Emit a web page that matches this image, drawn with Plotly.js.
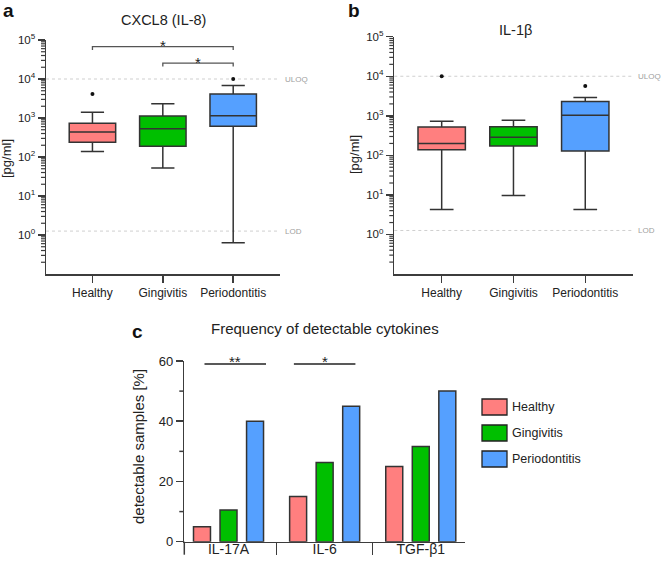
<!DOCTYPE html>
<html>
<head>
<meta charset="utf-8">
<script src="https://cdn.plot.ly/plotly-3.0.1.min.js"></script>
<style>
  html, body { margin: 0; padding: 0; background: #fff; }
  #chart { width: 661px; height: 562px; }
</style>
</head>
<body>
<div id="chart"></div>
<script>
// ---- groups -------------------------------------------------------------
const groups = ['Healthy', 'Gingivitis', 'Periodontitis'];
const groupColors = ['#FF7F7F', '#00BF00', '#55A0FF'];

// ---- CXCL8 (IL-8) concentrations, pg/ml (box statistics) ----------------
const il8Low    = [138, 52, 0.63];
const il8Q1     = [240, 190, 610];
const il8Median = [440, 530, 1150];
const il8Q3     = [730, 1130, 4100];
const il8High   = [1400, 2330, 6800];
const il8OutlierGroups = ['Healthy', 'Periodontitis'];
const il8Outliers      = [4100, 10000];

// ---- IL-1β concentrations, pg/ml ---------------------------------------
const il1bLow    = [4.3, 9.7, 4.3];
const il1bQ1     = [138, 172, 128];
const il1bMedian = [200, 285, 1030];
const il1bQ3     = [520, 530, 2300];
const il1bHigh   = [725, 770, 2900];
const il1bOutlierGroups = ['Healthy', 'Periodontitis'];
const il1bOutliers      = [10000, 5700];

// assay limits
const ULOQ = 10000;
const LOD = 1.26;

// significance brackets for CXCL8
const il8SigFrom  = ['Healthy', 'Gingivitis'];
const il8SigTo    = ['Periodontitis', 'Periodontitis'];
const il8SigLevel = [67600, 25400];
const il8SigText  = ['*', '*'];

// log axis labels
const decadeVals = [1, 10, 100, 1000, 10000, 100000];
const decadeText = ['10<sup>0</sup>', '10<sup>1</sup>', '10<sup>2</sup>',
                    '10<sup>3</sup>', '10<sup>4</sup>', '10<sup>5</sup>'];

// ---- frequency of detectable cytokines, % -------------------------------
const cytokines = ['IL-17A', 'IL-6', 'TGF-β1'];
const detectHealthy    = [5, 15, 25];
const detectGingivitis = [10.5, 26.3, 31.6];
const detectPerio      = [40, 45, 50];
const detectSeries = [detectHealthy, detectGingivitis, detectPerio];
const freqSigFrom  = [-0.25, 0.68];
const freqSigTo    = [0.39, 1.32];
const freqSigLevel = [59, 59];
const freqSigText  = ['**', '*'];

// ---- helpers ------------------------------------------------------------
const W = 661, H = 562;
const px = v => v / W;            // pixel -> paper x
const py = v => 1 - v / H;        // pixel -> paper y
const ink = '#333333';
const axisInk = '#3c3c3c';
const FONT = 'Liberation Sans, Arial, sans-serif';
const LOG_RANGE = [-1, 5];
const FREQ_RANGE = [0, 60];
const logFrac = v => (Math.log10(v) - LOG_RANGE[0]) / (LOG_RANGE[1] - LOG_RANGE[0]);
const linFrac = v => (v - FREQ_RANGE[0]) / (FREQ_RANGE[1] - FREQ_RANGE[0]);

// minor tick positions: 2..9 within every decade of the log range
const logMinorVals = [];
for (let e = LOG_RANGE[0]; e < LOG_RANGE[1]; e++) {
  for (let m = 2; m <= 9; m++) logMinorVals.push(m * Math.pow(10, e));
}
const freqMinorVals = [10, 30, 50];

const traces = [];

function addBoxPanel(xa, ya, low, q1, med, q3, high, outGroups, outVals) {
  groups.forEach((g, i) => {
    traces.push({
      type: 'box', orientation: 'v', xaxis: xa, yaxis: ya,
      x: [g], q1: [q1[i]], median: [med[i]], q3: [q3[i]],
      lowerfence: [low[i]], upperfence: [high[i]],
      fillcolor: groupColors[i], line: { color: ink, width: 1.5 },
      width: 0.66, whiskerwidth: 0.5, boxpoints: false, hoverinfo: 'skip',
      name: g
    });
  });
  traces.push({
    type: 'scatter', mode: 'markers', xaxis: xa, yaxis: ya,
    x: outGroups, y: outVals,
    marker: { color: '#111', size: 4 }, hoverinfo: 'skip'
  });
}

addBoxPanel('x', 'y', il8Low, il8Q1, il8Median, il8Q3, il8High, il8OutlierGroups, il8Outliers);
addBoxPanel('x2', 'y2', il1bLow, il1bQ1, il1bMedian, il1bQ3, il1bHigh, il1bOutlierGroups, il1bOutliers);

// brackets over the CXCL8 boxes
il8SigFrom.forEach((from, i) => {
  const lvl = il8SigLevel[i];
  traces.push({
    type: 'scatter', mode: 'lines', xaxis: 'x', yaxis: 'y',
    x: [from, from, il8SigTo[i], il8SigTo[i]],
    y: [lvl * 0.82, lvl, lvl, lvl * 0.82],
    line: { color: '#555', width: 1.3 }, hoverinfo: 'skip'
  });
});

// frequency bars
groups.forEach((g, i) => {
  traces.push({
    type: 'bar', xaxis: 'x3', yaxis: 'y3',
    x: cytokines, y: detectSeries[i], name: g,
    marker: { color: groupColors[i], line: { color: ink, width: 1.5 } },
    hoverinfo: 'skip'
  });
});

// ---- axes ---------------------------------------------------------------
const baseAxis = {
  showgrid: false, zeroline: false, showline: true,
  linecolor: axisInk, linewidth: 1.5,
  ticks: 'outside', tickcolor: axisInk, tickwidth: 1.5,
  fixedrange: true, tickfont: { family: FONT, size: 12, color: '#222' }
};
const logAxis = Object.assign({}, baseAxis, {
  type: 'log', range: LOG_RANGE, tickmode: 'array',
  tickvals: decadeVals, ticktext: decadeText, ticklen: 7,
  tickfont: { family: FONT, size: 11.5, color: '#222' }
});
const catAxis = Object.assign({}, baseAxis, {
  type: 'category', range: [-0.66, 2.665], ticklen: 7
});

const shapes = [];
const annotations = [];

// short minor ticks on the left of a y axis, drawn in paper space
function addMinorTicks(xLeftPx, yTopPx, yBotPx, fracs, lenPx, width) {
  fracs.forEach(f => {
    const yPx = yBotPx - f * (yBotPx - yTopPx);
    shapes.push({
      type: 'line', xref: 'paper', yref: 'paper',
      x0: px(xLeftPx), x1: px(xLeftPx - lenPx), y0: py(yPx), y1: py(yPx),
      line: { color: axisInk, width: width }
    });
  });
}
addMinorTicks(45.5, 40, 274, logMinorVals.map(logFrac), 4.5, 1.2);
addMinorTicks(393.8, 36.7, 274, logMinorVals.map(logFrac), 4.5, 1.2);
addMinorTicks(183.8, 361, 541.7, freqMinorVals.map(linFrac), 4.5, 1.5);

// assay limit lines + labels
[['x', 'y'], ['x2', 'y2']].forEach(([xa, ya]) => {
  [[ULOQ, 'ULOQ'], [LOD, 'LOD']].forEach(([v, t]) => {
    shapes.push({
      type: 'line', xref: xa + ' domain', yref: ya + ' domain',
      x0: 0, x1: 1, y0: logFrac(v), y1: logFrac(v),
      line: { color: '#cfcfcf', width: 1, dash: '3px,3px' }, layer: 'below'
    });
    annotations.push({
      xref: xa + ' domain', yref: ya, x: 1, y: Math.log10(v),
      xanchor: 'left', yanchor: 'middle', xshift: 3, showarrow: false,
      text: t, font: { family: FONT, size: 8, color: '#a0a0a0' }
    });
  });
});

// stars over CXCL8 brackets
il8SigFrom.forEach((from, i) => {
  const a = groups.indexOf(from), b = groups.indexOf(il8SigTo[i]);
  annotations.push({
    xref: 'x', yref: 'y', x: (a + b) / 2, y: Math.log10(il8SigLevel[i]),
    xanchor: 'center', yanchor: 'middle', yshift: 1, showarrow: false,
    text: il8SigText[i], font: { family: FONT, size: 15, color: '#222' }
  });
});

// significance lines over the frequency bars
freqSigFrom.forEach((x0, i) => {
  shapes.push({
    type: 'line', xref: 'x3', yref: 'y3',
    x0: x0, x1: freqSigTo[i], y0: freqSigLevel[i], y1: freqSigLevel[i],
    line: { color: '#222', width: 1.3 }
  });
  annotations.push({
    xref: 'x3', yref: 'y3', x: (x0 + freqSigTo[i]) / 2, y: freqSigLevel[i],
    xanchor: 'center', yanchor: 'middle', yshift: 3, showarrow: false,
    text: freqSigText[i], font: { family: FONT, size: 15, color: '#222' }
  });
});

// left boundary tick of the category axis in panel c
shapes.push({
  type: 'line', xref: 'x3 domain', yref: 'y3 domain',
  x0: 0, x1: 0, y0: 0, y1: -13 / 180.7,
  line: { color: axisInk, width: 1.5 }
});

// legend for panel c
groups.forEach((g, i) => {
  const top = 399 + i * 26;
  shapes.push({
    type: 'rect', xref: 'paper', yref: 'paper',
    x0: px(482), x1: px(507), y0: py(top + 16), y1: py(top),
    fillcolor: groupColors[i], line: { color: '#222', width: 1.3 }
  });
  annotations.push({
    xref: 'paper', yref: 'paper', x: px(510), y: py(top + 8),
    xanchor: 'left', yanchor: 'middle', showarrow: false,
    text: g, font: { family: FONT, size: 12.5, color: '#222' }
  });
});

// titles, panel letters, y titles
const textItems = [
  { text: 'CXCL8 (IL-8)', x: 163, y: 20, size: 14.5 },
  { text: 'IL-1β', x: 515, y: 30, size: 14.5 },
  { text: 'Frequency of detectable cytokines', x: 325, y: 329, size: 15 },
  { text: '<b>a</b>', x: 8, y: 11, size: 19, color: '#111' },
  { text: '<b>b</b>', x: 354, y: 11, size: 19, color: '#111' },
  { text: '<b>c</b>', x: 137.5, y: 331, size: 19, color: '#111' },
  { text: '[pg/ml]', x: 7, y: 159, size: 13, angle: -90 },
  { text: '[pg/ml]', x: 355, y: 155, size: 13, angle: -90 },
  { text: 'detectable samples [%]', x: 138, y: 447, size: 15, angle: -90 }
];
textItems.forEach(t => {
  annotations.push({
    xref: 'paper', yref: 'paper', x: px(t.x), y: py(t.y),
    xanchor: 'center', yanchor: 'middle', showarrow: false,
    textangle: t.angle || 0, text: t.text,
    font: { family: FONT, size: t.size, color: t.color || '#222' }
  });
});

const layout = {
  width: W, height: H, autosize: false,
  margin: { l: 0, r: 0, t: 0, b: 0 },
  paper_bgcolor: '#fff', plot_bgcolor: 'rgba(0,0,0,0)',
  showlegend: false, boxmode: 'overlay',
  barmode: 'group', bargap: 0.172, bargroupgap: 0.36,
  font: { family: FONT, color: '#222' },
  xaxis:  Object.assign({}, catAxis, { domain: [px(46), px(280)], anchor: 'y' }),
  yaxis:  Object.assign({}, logAxis, { domain: [py(274), py(40)], anchor: 'x' }),
  xaxis2: Object.assign({}, catAxis, { domain: [px(394.3), px(633)], anchor: 'y2' }),
  yaxis2: Object.assign({}, logAxis, { domain: [py(274), py(36.7)], anchor: 'x2' }),
  xaxis3: Object.assign({}, baseAxis, {
    domain: [px(184.3), px(465)], anchor: 'y3', type: 'category',
    range: [-0.46, 2.46], tickson: 'boundaries', ticklen: 12,
    ticklabelstandoff: -6,
    tickfont: { family: FONT, size: 14, color: '#222' }
  }),
  yaxis3: Object.assign({}, baseAxis, {
    domain: [py(541.7), py(361)], anchor: 'x3', range: FREQ_RANGE,
    tickmode: 'linear', tick0: 0, dtick: 20, ticklen: 7,
    tickfont: { family: FONT, size: 13, color: '#222' }
  }),
  shapes: shapes,
  annotations: annotations
};

Plotly.newPlot('chart', traces, layout, { displayModeBar: false, staticPlot: true });
</script>
</body>
</html>
